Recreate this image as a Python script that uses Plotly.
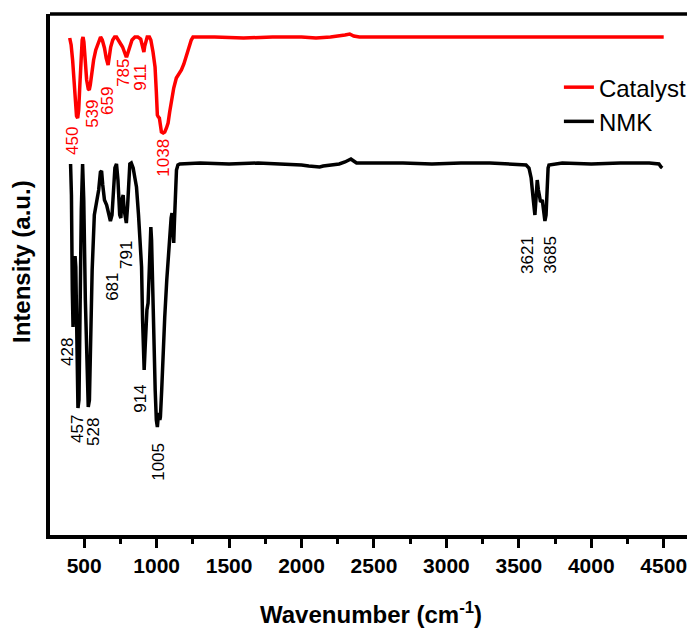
import plotly.graph_objects as go

# ---- data ----
cat_wn = [400, 410, 420, 430, 440, 447, 455, 462, 470, 478, 486, 492, 498, 507, 517, 528, 535, 542, 552, 565,
          580, 598, 613, 625, 640, 652, 660, 665, 672, 683, 697, 710, 723, 738, 752, 765, 778, 788, 795, 803,
          815, 830, 850, 870, 890, 900, 906, 912, 918, 926, 935, 950, 960, 975, 989, 998, 1005, 1012, 1019, 1026,
          1033, 1045, 1056, 1068, 1079, 1090, 1102, 1118, 1136, 1153, 1171, 1188, 1205, 1222, 1239, 1251,
          1400, 1600, 1800, 2000, 2100, 2200, 2300, 2333, 2360, 2400, 2600, 2800, 3000, 3200, 3400, 3600,
          3800, 4000, 4200, 4400, 4500]
cat_int = [499, 492, 477, 457, 432, 421, 419, 427, 452, 482, 497, 500, 495, 477, 457, 448, 447, 452, 465, 477,
           487, 495, 500, 497, 489, 479, 473, 472, 479, 490, 497, 500, 500, 497, 493, 490, 485, 481, 481, 485,
           492, 497, 500, 500, 498, 493, 487, 485, 491, 497, 500, 500, 497, 485, 470, 445, 422, 420, 419, 412,
           405, 404, 405, 409, 414, 425, 437, 449, 459, 463, 467, 473, 480, 489, 497, 500,
           500, 499, 500, 500, 499, 500, 502, 503, 501, 500, 500, 500, 500, 500, 500, 500,
           500, 500, 500, 500, 500]

nmk_wn = [406, 412, 418, 423, 430, 437, 442, 448, 457, 464, 472, 480, 489, 497, 508, 520, 528, 536, 545, 555,
          570, 586, 600, 612, 620, 628, 640, 655, 670, 681, 692, 702, 712, 723, 733, 745, 753, 760, 769, 776,
          785, 791, 800, 808, 815, 825, 838, 850, 861, 875, 888, 896, 903, 909, 914, 920, 926, 933, 941, 948,
          955, 960, 965, 972, 980, 990, 998, 1005, 1012, 1017, 1022, 1026, 1035, 1045, 1056, 1070, 1080, 1090,
          1100, 1106, 1112, 1118, 1122, 1127, 1132, 1137, 1147, 1160,
          1300, 1500, 1700, 1900, 2000, 2050, 2100, 2125, 2150, 2200, 2260, 2300, 2330, 2341, 2360, 2380,
          2500, 2700, 2900, 3100, 3300, 3500, 3550, 3570, 3585, 3600, 3611, 3618, 3627, 3635, 3650, 3662,
          3672, 3680, 3688, 3695, 3702, 3708, 3800, 4000, 4200, 4400, 4467, 4482, 4490]
nmk_int = [373, 342, 247, 210, 237, 281, 270, 197, 129, 137, 237, 327, 373, 337, 237, 147, 130, 137, 197, 267,
           322, 337, 347, 365, 366, 352, 337, 332, 322, 316, 322, 347, 369, 373, 357, 322, 319, 337, 342, 327,
           315, 314, 332, 362, 373, 374, 369, 359, 350, 322, 287, 270, 217, 177, 167, 187, 219, 227, 234, 267,
           302, 310, 297, 247, 197, 147, 117, 110, 122, 124, 117, 120, 147, 187, 220, 257, 282, 304,
           319, 324, 312, 294, 312, 337, 357, 367, 372, 373,
           374, 373, 374, 373, 372, 371, 370, 370, 371, 372, 373, 375, 377, 378, 376, 374,
           374, 374, 373, 374, 374, 373, 372, 369, 359, 337, 322, 337, 357, 347, 335, 337,
           327, 316, 322, 352, 369, 372, 374, 373, 374, 374, 373, 370, 369]

cat_labels = ["450", "539", "659", "785", "911", "1038"]
cat_label_x = [416, 553, 657, 767, 884, 1042]
cat_label_y = [396, 423, 436, 464, 460, 379]

nmk_labels = ["428", "457", "528", "681", "791", "914", "1005", "3621", "3685"]
nmk_label_x = [381, 450, 561, 691, 788, 884, 1008, 3556, 3714]
nmk_label_y = [185, 108, 105, 250, 282, 138, 75, 282, 282]

x_ticks = [500, 1000, 1500, 2000, 2500, 3000, 3500, 4000, 4500]

FONT = "Arial, 'Liberation Sans', sans-serif"

fig = go.Figure()
fig.add_trace(go.Scatter(x=cat_wn, y=cat_int, mode="lines", name="Catalyst",
                         line=dict(color="#ff0000", width=3.5)))
fig.add_trace(go.Scatter(x=nmk_wn, y=nmk_int, mode="lines", name="NMK",
                         line=dict(color="#000000", width=3.5)))

for t, x, y in zip(cat_labels, cat_label_x, cat_label_y):
    fig.add_annotation(x=x, y=y, xref="x", yref="y", text=t, showarrow=False, textangle=-90,
                       font=dict(family=FONT, size=17, color="#ff0000"))
for t, x, y in zip(nmk_labels, nmk_label_x, nmk_label_y):
    fig.add_annotation(x=x, y=y, xref="x", yref="y", text=t, showarrow=False, textangle=-90,
                       font=dict(family=FONT, size=17, color="#000000"))

# axis titles
fig.add_annotation(x=0.497, y=-0.149, xref="paper", yref="paper", text="<b>Wavenumber (cm<sup>-1</sup>)</b>",
                   showarrow=False, xanchor="center", yanchor="middle",
                   font=dict(family=FONT, size=24, color="#000000"))
fig.add_annotation(x=-0.0434, y=0.524, xref="paper", yref="paper", text="<b>Intensity (a.u.)</b>",
                   showarrow=False, textangle=-90, xanchor="center", yanchor="middle",
                   font=dict(family=FONT, size=24, color="#000000"))

# top frame line
fig.add_shape(type="line", xref="paper", yref="paper", x0=0, x1=1, y0=1, y1=1,
              line=dict(color="#000000", width=3.5))

fig.update_layout(
    width=687, height=624,
    margin=dict(l=42, r=0, t=6, b=97),
    paper_bgcolor="white", plot_bgcolor="white",
    showlegend=True,
    legend=dict(x=0.789, y=0.902, xanchor="left", yanchor="top",
                font=dict(family=FONT, size=24, color="#000000"),
                bgcolor="rgba(0,0,0,0)", itemwidth=30),
    xaxis=dict(range=[264, 4716], tickmode="array", tickvals=x_ticks,
               ticktext=[f"<b>{v}</b>" for v in x_ticks],
               tickfont=dict(family=FONT, size=21, color="#000000"),
               ticks="outside", ticklen=9, tickwidth=3, tickcolor="#000000",
               minor=dict(dtick=250, tick0=250, ticks="outside", ticklen=5, tickwidth=2.5, tickcolor="#000000"),
               showline=True, linecolor="#000000", linewidth=3.5, mirror=False,
               showgrid=False, zeroline=False),
    yaxis=dict(range=[2, 523], showticklabels=False, ticks="",
               showline=True, linecolor="#000000", linewidth=3.5, mirror=False,
               showgrid=False, zeroline=False),
)

fig.write_html("out.html")
